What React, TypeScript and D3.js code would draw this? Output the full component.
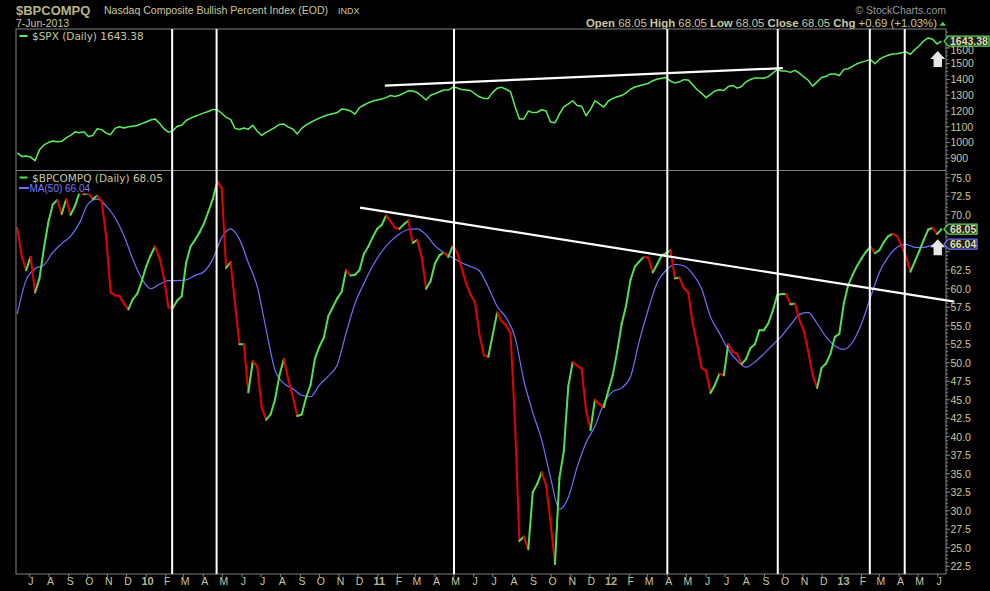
import React from 'react';
import * as d3 from 'd3';

// ---------- data (weekly closes, first week = 12-Jun-2009) ----------
const FIRST_WEEK = new Date(2009, 5, 12);

const spxValues = [
  935, 912, 915, 908, 885, 955, 985, 1000, 1010, 1005,
  1008, 1030, 1045, 1068, 1062, 1068, 1038, 1045, 1088, 1082,
  1060, 1050, 1090, 1100, 1092, 1100, 1104, 1108, 1120, 1130,
  1143, 1150, 1122, 1088, 1066, 1075, 1104, 1110, 1140, 1155,
  1167, 1177, 1188, 1197, 1210, 1208, 1186, 1160, 1147, 1090,
  1083, 1092, 1085, 1110, 1072, 1045, 1065, 1080, 1096, 1115,
  1117, 1098, 1086, 1055, 1090, 1112, 1127, 1142, 1155, 1167,
  1176, 1183, 1190, 1212, 1210, 1200, 1180, 1222, 1238, 1252,
  1263, 1270, 1276, 1285, 1299, 1292, 1300, 1313, 1328, 1327,
  1317, 1295, 1270, 1300, 1309, 1322, 1333, 1333, 1350, 1347,
  1336, 1333, 1330, 1308, 1290, 1280, 1280, 1318, 1345, 1350,
  1338, 1323, 1230, 1150, 1150, 1200, 1190, 1192, 1208, 1200,
  1130, 1125, 1180, 1226, 1245, 1265, 1235, 1230, 1170, 1210,
  1265, 1245, 1225, 1262, 1280, 1290, 1298, 1315, 1338, 1352,
  1360, 1368, 1375, 1392, 1401, 1408, 1413, 1390, 1377, 1385,
  1399, 1397, 1366, 1335, 1313, 1285, 1305, 1327, 1335, 1330,
  1355, 1362, 1345, 1355, 1385, 1400, 1410, 1410, 1408, 1418,
  1440, 1463, 1453, 1453, 1445, 1458, 1440, 1416, 1395, 1358,
  1385, 1412, 1420, 1435, 1435, 1425, 1464, 1468, 1484, 1500,
  1510, 1518, 1527, 1500, 1527, 1543, 1554, 1562, 1563, 1570,
  1575, 1560, 1590, 1614, 1645, 1663, 1655, 1625, 1643.38,
];

const bpValues = [
  68.2, 64.4, 62.5, 64.3, 59.5, 61.4, 65.5, 69.0, 71.4, 72.0,
  70.1, 72.1, 70.0, 71.2, 73.0, 72.8, 72.9, 72.1, 72.6, 71.8,
  67.0, 59.5, 59.1, 59.0, 58.0, 57.2, 58.6, 59.3, 61.0, 63.0,
  64.5, 65.7, 64.2, 61.5, 57.5, 57.4, 58.4, 59.0, 63.5, 65.7,
  66.6, 67.6, 68.8, 70.4, 72.1, 74.5, 73.6, 62.8, 63.6, 58.0,
  52.5, 52.5, 46.0, 50.2, 49.5, 44.0, 42.3, 43.0, 45.0, 48.3,
  50.5, 47.7, 45.5, 42.8, 43.0, 45.3, 47.0, 50.6, 52.2, 53.4,
  56.3, 57.5, 58.7, 59.6, 62.5, 61.8, 61.9, 62.5, 64.7, 65.7,
  67.0, 68.1, 68.6, 69.9, 69.1, 68.2, 68.1, 68.7, 69.2, 66.2,
  66.6, 64.3, 60.0, 61.0, 63.4, 64.5, 64.9, 64.3, 65.8, 64.9,
  62.8, 60.7, 59.2, 58.2, 53.8, 51.0, 50.8, 53.8, 56.8, 55.6,
  55.0, 54.0, 42.0, 25.9, 26.5, 24.8, 32.5, 33.6, 35.2, 33.5,
  28.5, 22.8, 34.4, 38.1, 46.8, 50.1, 49.6, 49.2, 43.5, 40.9,
  45.0, 44.4, 44.0, 46.2, 48.3, 51.5, 55.2, 57.7, 61.2, 63.0,
  63.7, 64.3, 64.2, 62.2, 63.3, 64.5, 64.8, 65.2, 61.4, 61.5,
  60.1, 59.5, 55.3, 52.5, 49.3, 48.9, 45.9, 47.0, 48.5, 48.3,
  52.5, 51.5, 51.2, 49.8, 50.5, 52.0, 52.5, 54.4, 54.4, 55.3,
  57.0, 59.1, 59.3, 59.3, 57.9, 58.0, 55.8, 54.3, 51.5, 48.3,
  46.6, 49.3, 49.9, 51.2, 53.5, 53.9, 58.0, 60.5, 61.9, 63.1,
  64.1, 65.0, 65.7, 64.8, 65.2, 66.3, 67.1, 67.4, 67.1, 65.8,
  64.3, 62.3, 63.7, 65.1, 66.6, 68.0, 68.2, 67.4, 68.05,
];

// MA(50), read every second week
const maValues = [
  56.6, 61.2, 62.7, 63.2, 64.9, 66.1, 67.1, 68.9, 71.5, 72.1,
  71.2, 69.6, 67.2, 64.0, 61.4, 60.0, 60.6, 61.1, 61.1, 61.2,
  61.8, 62.3, 64.0, 66.9, 68.1, 66.7, 63.5, 60.3, 54.5, 49.0,
  47.2, 46.5, 45.6, 45.4, 47.0, 48.2, 49.7, 54.0, 58.0, 60.7,
  63.1, 65.0, 66.4, 67.4, 68.0, 68.1, 67.3, 65.8, 64.9, 64.2,
  63.5, 63.0, 62.4, 60.2, 57.6, 56.1, 53.5, 47.6, 43.3, 39.6,
  34.5, 30.2, 31.8, 35.9, 39.2, 41.4, 44.5, 46.1, 46.6, 48.1,
  53.0, 57.2, 60.8, 62.5, 63.3, 63.1, 62.0, 60.0, 56.2, 54.0,
  51.8, 50.3, 49.4, 50.1, 51.2, 52.4, 53.6, 55.1, 56.5, 56.8,
  55.3, 53.5, 52.3, 51.8, 52.8, 55.3, 58.8, 62.2, 64.3, 65.6,
  66.0, 65.6, 65.6, 65.9, 66.04,
];

const spxTicks = [900, 1000, 1100, 1200, 1300, 1400, 1500, 1600];
const bpTicks = [22.5, 25, 27.5, 30, 32.5, 35, 37.5, 40, 42.5, 45, 47.5, 50, 52.5, 55, 57.5, 60, 62.5, 65, 67.5, 70, 72.5, 75];
const monthInitials = ['J', 'F', 'M', 'A', 'M', 'J', 'J', 'A', 'S', 'O', 'N', 'D'];

const markerDates = ['2010-02-11', '2010-04-22', '2011-05-01', '2012-04-01', '2012-09-22', '2013-02-14', '2013-04-10'];
const spxTrend: [string, number][] = [['2011-01-12', 1361], ['2012-09-30', 1472]];
const bpTrend: [string, number][] = [['2010-12-04', 70.97], ['2013-06-27', 58.26]];
const arrowDate = '2013-06-01';
const spxArrowTip = 1581;
const bpArrowTip = 66.7;

const lastSpx = 1643.38;
const lastBp = 68.05;
const lastMa = 66.04;

const parse = d3.timeParse('%Y-%m-%d');

const TXT = '#c8c8a0';
const AXIS = '#808080';
const SANS = '"Liberation Sans", Arial, sans-serif';
const DV = '"DejaVu Sans", Verdana, sans-serif';

export default function App() {
  const W = 990, H = 591;
  const L = 16, R = 946, T = 29, MID = 170.5, B = 574;

  const x = d3.scaleTime().domain([new Date(2009, 5, 10), new Date(2013, 5, 14)]).range([L, R]);
  const ySpx = d3.scaleLinear().domain([826, 1720]).range([170, 29]);
  const yBp = d3.scaleLinear().domain([21.45, 75.95]).range([574, 170.7]);

  const weekDates = spxValues.map((_, i) => d3.timeDay.offset(FIRST_WEEK, 7 * i));
  const maDates = maValues.map((_, i) => d3.timeDay.offset(FIRST_WEEK, 14 * i));

  const spxPath = d3.line<number>().x((_, i) => x(weekDates[i])).y(d => ySpx(d))(spxValues) || '';
  const maPath = d3.line<number>().x((_, i) => x(maDates[i])).y(d => yBp(d)).curve(d3.curveMonotoneX)(maValues) || '';

  const bpSegs = bpValues.slice(1).map((v, i) => ({
    d: `M${x(weekDates[i])},${yBp(bpValues[i])}L${x(weekDates[i + 1])},${yBp(v)}`,
    up: v >= bpValues[i],
  }));

  const months = d3.timeMonth.range(new Date(2009, 6, 1), new Date(2013, 5, 2));
  const bpMinor = d3.range(22, 76, 0.5);
  const spxMinor = d3.range(850, 1720, 25);

  const arrowX = x(parse(arrowDate)!);

  const arrow = (cx: number, tipY: number, key: string) => (
    <path key={key}
      d={`M${cx},${tipY} L${cx + 7.5},${tipY + 8} L${cx + 4.2},${tipY + 8} L${cx + 4.2},${tipY + 16} L${cx - 4.2},${tipY + 16} L${cx - 4.2},${tipY + 8} L${cx - 7.5},${tipY + 8} Z`}
      fill="#e6e6e6" />
  );

  const valueBox = (cy: number, right: number, stroke: string, label: string, key: string) => (
    <g key={key}>
      <path d={`M944,${cy} L948.5,${cy - 5} L${right},${cy - 5} L${right},${cy + 5} L948.5,${cy + 5} Z`}
        fill="#202018" stroke={stroke} strokeWidth={1.3} />
      <text x={950} y={cy + 3.6} fontFamily={SANS} fontWeight="bold" fontSize={10.5} fill="#dcdcb4">{label}</text>
    </g>
  );

  // hide axis labels that sit fully under the last-value boxes
  const boxYs = [yBp(lastMa), yBp(lastBp)];
  const bpLabelVisible = (v: number) => boxYs.every(by => Math.abs(yBp(v) - by) > 9);

  return (
    <svg width={W} height={H} style={{ position: 'absolute', left: 0, top: 0, display: 'block' }}>
      <defs>
        <clipPath id="clipTop"><rect x={L} y={T} width={R - L} height={MID - T} /></clipPath>
        <clipPath id="clipBot"><rect x={L} y={MID} width={R - L} height={B - MID} /></clipPath>
      </defs>
      <rect x={0} y={0} width={W} height={H} fill="#000" />

      {/* header */}
      <text x={16} y={15} fontFamily={SANS} fontWeight="bold" fontSize={13} fill="#b4b48a">$BPCOMPQ</text>
      <text x={104} y={14} fontFamily={SANS} fontSize={11} fill={TXT} textLength={224} lengthAdjust="spacingAndGlyphs">Nasdaq Composite Bullish Percent Index (EOD)</text>
      <text x={338} y={14} fontFamily={SANS} fontSize={9} fill={TXT}>INDX</text>
      <text x={16} y={27} fontFamily={SANS} fontSize={10.5} fill={TXT}>7-Jun-2013</text>
      <text x={946} y={14} textAnchor="end" fontFamily={SANS} fontSize={10.5} fill="#9a9a9a">© StockCharts.com</text>
      <text x={586} y={26.5} fontFamily={SANS} fontSize={11} fill={TXT} textLength={351} lengthAdjust="spacingAndGlyphs">
        <tspan fontWeight="bold">Open</tspan> 68.05  <tspan fontWeight="bold">High</tspan> 68.05  <tspan fontWeight="bold">Low</tspan> 68.05  <tspan fontWeight="bold">Close</tspan> 68.05  <tspan fontWeight="bold">Chg</tspan> +0.69 (+1.03%)
      </text>
      <path d="M939.5,25.7 L942.8,21.7 L946,25.7 Z" fill="#44dd44" />

      {/* top panel data */}
      <g clipPath="url(#clipTop)">
        <path d={spxPath} fill="none" stroke="#5cf05c" strokeWidth={1.5} strokeLinejoin="round" />
      </g>

      {/* bottom panel data */}
      <g clipPath="url(#clipBot)">
        <path d={maPath} fill="none" stroke="#7070ff" strokeWidth={1.2} />
        {bpSegs.map((s, i) => (
          <path key={i} d={s.d} fill="none" stroke={s.up ? '#52e052' : '#e80000'} strokeWidth={2} strokeLinecap="round" />
        ))}
      </g>

      {/* legends */}
      <rect x={17} y={30} width={135} height={11} fill="#000" />
      <line x1={19.5} x2={27.5} y1={36} y2={36} stroke="#5cf05c" strokeWidth={2} />
      <text x={32} y={40} fontFamily={DV} fontSize={10.5} fill={TXT}>$SPX (Daily) 1643.38</text>

      <rect x={17} y={171.5} width={156} height={12} fill="#000" />
      <rect x={17} y={183.5} width={74} height={10} fill="#000" />
      <line x1={19.5} x2={27.5} y1={177.5} y2={177.5} stroke="#52e052" strokeWidth={2} />
      <text x={32} y={182} fontFamily={DV} fontSize={10.5} fill={TXT}>$BPCOMPQ (Daily) 68.05</text>
      <line x1={19} x2={29} y1={188} y2={188} stroke="#7070ff" strokeWidth={2} />
      <text x={29.5} y={192} fontFamily={SANS} fontSize={10} fill="#7b7bff">MA(50) 66.04</text>

      {/* frame */}
      <rect x={L} y={T} width={R - L} height={B - T} fill="none" stroke={AXIS} strokeWidth={1} />
      <line x1={L} x2={R} y1={MID} y2={MID} stroke={AXIS} strokeWidth={1} />

      {/* right axis: SPX */}
      {spxMinor.filter(v => ySpx(v) > T && ySpx(v) < MID).map(v => (
        <line key={'sm' + v} x1={R} x2={R + 2} y1={ySpx(v)} y2={ySpx(v)} stroke={AXIS} />
      ))}
      {spxTicks.map(v => (
        <g key={'st' + v}>
          <line x1={R} x2={R + 4} y1={ySpx(v)} y2={ySpx(v)} stroke={AXIS} />
          <text x={R + 4.5} y={ySpx(v) + (v === 1600 ? 6.2 : 3.8)} fontFamily={SANS} fontSize={10.5} fill={TXT}>{v}</text>
        </g>
      ))}

      {/* right axis: BP */}
      {bpMinor.filter(v => yBp(v) > MID && yBp(v) < B).map(v => (
        <line key={'bm' + v} x1={R} x2={R + 2} y1={yBp(v)} y2={yBp(v)} stroke={AXIS} />
      ))}
      {bpTicks.map(v => (
        <g key={'bt' + v}>
          <line x1={R} x2={R + 4} y1={yBp(v)} y2={yBp(v)} stroke={AXIS} />
          {bpLabelVisible(v) && (
            <text x={R + 4.5} y={yBp(v) + 3.8} fontFamily={SANS} fontSize={10.5} fill={TXT}>{v.toFixed(1)}</text>
          )}
        </g>
      ))}

      {/* bottom axis */}
      {months.map(m => {
        const xm = x(m);
        const isYear = m.getMonth() === 0;
        return (
          <g key={'m' + m.getTime()}>
            <line x1={xm} x2={xm} y1={B} y2={B + 3} stroke={AXIS} />
            <text x={xm + 1.5} y={585} textAnchor="middle" fontFamily={SANS}
              fontSize={isYear ? 11 : 10.5} fontWeight={isYear ? 'bold' : 'normal'}
              fill={isYear ? '#b4b48a' : TXT}>
              {isYear ? String(m.getFullYear()).slice(2) : monthInitials[m.getMonth()]}
            </text>
          </g>
        );
      })}

      {/* annotations */}
      {markerDates.map(d => {
        const xm = x(parse(d)!);
        return <line key={d} x1={xm} x2={xm} y1={T} y2={B} stroke="#fff" strokeWidth={2} />;
      })}
      <line x1={x(parse(spxTrend[0][0])!)} y1={ySpx(spxTrend[0][1])} x2={x(parse(spxTrend[1][0])!)} y2={ySpx(spxTrend[1][1])}
        stroke="#fff" strokeWidth={2.2} />
      <line x1={x(parse(bpTrend[0][0])!)} y1={yBp(bpTrend[0][1])} x2={x(parse(bpTrend[1][0])!)} y2={yBp(bpTrend[1][1])}
        stroke="#fff" strokeWidth={2.2} />
      {arrow(arrowX, ySpx(spxArrowTip), 'a1')}
      {arrow(arrowX, yBp(bpArrowTip), 'a2')}

      {/* last value boxes */}
      {valueBox(yBp(lastMa), 977, '#6b6bff', lastMa.toFixed(2), 'vb3')}
      {valueBox(yBp(lastBp), 977, '#55dd55', lastBp.toFixed(2), 'vb2')}
      {valueBox(ySpx(lastSpx), 989, '#55dd55', lastSpx.toFixed(2), 'vb1')}
    </svg>
  );
}
